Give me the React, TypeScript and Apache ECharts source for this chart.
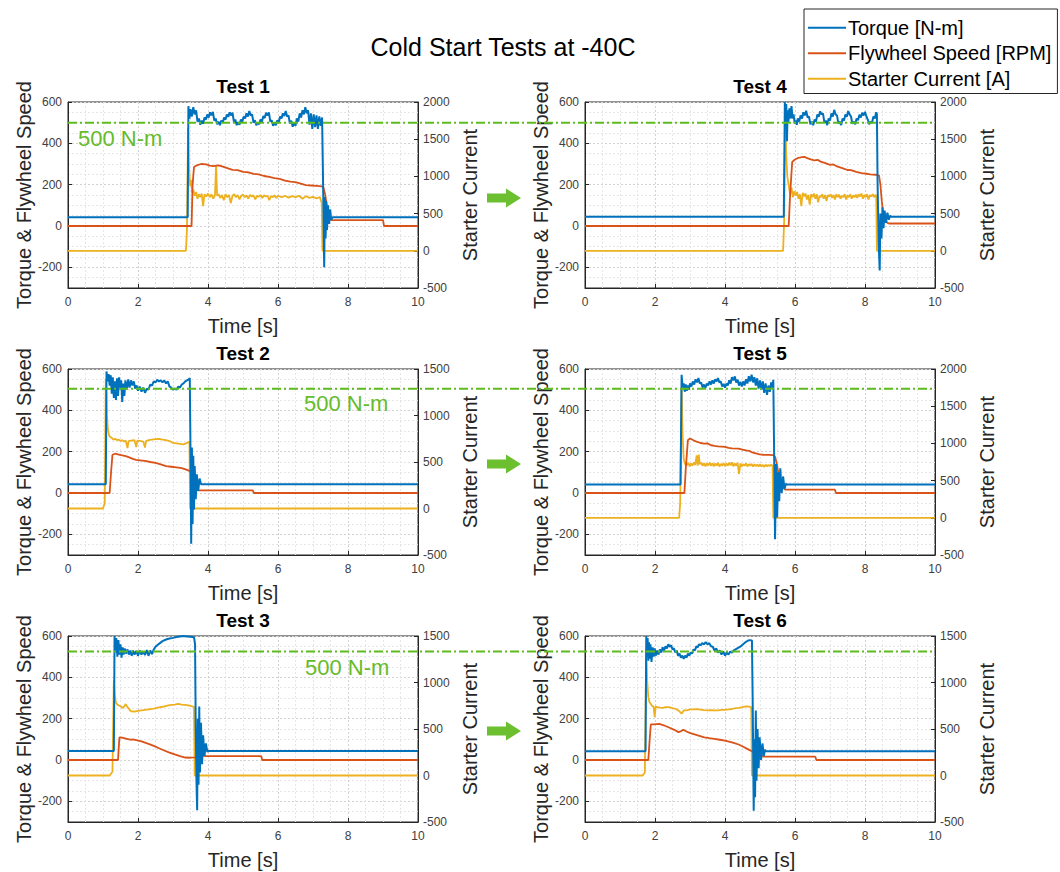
import React, { useEffect, useRef } from "react";
import * as echarts from "echarts";

// ---------- DATA (time [s], value) ----------
const test1Torque = [[0,42],[3.42,42],[3.44,580],[3.47,520],[3.50,565],[3.54,530],[3.58,575],[3.62,540],[3.66,560],[3.70,505],[3.74,520],[3.78,490],[3.82,510],[3.86,495],[3.90,525],[3.94,515],[3.98,540],[4.02,525],[4.06,550],[4.10,535],[4.14,552],[4.18,510],[4.22,520],[4.26,492],[4.30,505],[4.34,488],[4.38,510],[4.42,500],[4.46,525],[4.50,515],[4.54,540],[4.58,528],[4.62,550],[4.66,535],[4.70,548],[4.74,505],[4.78,515],[4.82,488],[4.86,502],[4.90,490],[4.94,515],[4.98,505],[5.02,530],[5.06,520],[5.10,545],[5.14,530],[5.18,556],[5.22,535],[5.26,540],[5.30,500],[5.34,512],[5.38,488],[5.42,500],[5.46,492],[5.50,515],[5.54,505],[5.58,532],[5.62,522],[5.66,548],[5.70,535],[5.74,550],[5.78,505],[5.82,512],[5.86,485],[5.90,500],[5.94,488],[5.98,512],[6.02,500],[6.06,530],[6.10,520],[6.14,545],[6.18,532],[6.22,556],[6.26,530],[6.30,535],[6.34,495],[6.38,510],[6.42,480],[6.46,500],[6.50,485],[6.54,520],[6.58,505],[6.62,545],[6.66,525],[6.70,560],[6.74,540],[6.78,575],[6.82,545],[6.86,560],[6.90,490],[6.94,545],[6.98,470],[7.02,540],[7.06,478],[7.10,535],[7.14,470],[7.18,530],[7.22,485],[7.26,525],[7.28,300],[7.30,60],[7.32,-200],[7.34,140],[7.36,-60],[7.38,120],[7.40,-20],[7.43,100],[7.46,10],[7.49,80],[7.52,30],[7.56,42],[10,42]];
const test1Speed = [[0,0],[3.53,0],[3.56,200],[3.60,285],[3.70,295],[3.80,300],[3.95,298],[4.05,292],[4.15,290],[4.30,293],[4.40,288],[4.55,280],[4.70,272],[4.85,270],[5.00,262],[5.15,260],[5.30,252],[5.45,250],[5.60,242],[5.75,238],[5.90,232],[6.05,228],[6.20,220],[6.35,215],[6.50,212],[6.65,205],[6.80,198],[6.95,196],[7.10,194],[7.25,192],[7.30,185],[7.35,150],[7.40,90],[7.45,45],[7.50,30],[7.55,28],[9.00,28],[9.03,0],[10,0]];
const test1Current = [[0,0],[3.37,0],[3.40,300],[3.43,1650],[3.46,1100],[3.49,870],[3.52,950],[3.55,780],[3.58,820],[3.62,740],[3.66,790],[3.70,700],[3.74,760],[3.78,720],[3.82,770],[3.86,600],[3.90,760],[3.95,730],[4.00,770],[4.05,720],[4.10,760],[4.15,700],[4.20,750],[4.23,1150],[4.26,740],[4.30,760],[4.35,710],[4.40,750],[4.45,680],[4.50,760],[4.55,720],[4.60,750],[4.65,640],[4.70,740],[4.75,760],[4.80,720],[4.85,750],[4.90,690],[4.95,740],[5.00,755],[5.05,720],[5.10,745],[5.15,700],[5.20,750],[5.25,730],[5.30,745],[5.35,690],[5.40,740],[5.45,725],[5.50,750],[5.55,710],[5.60,745],[5.65,730],[5.70,740],[5.75,680],[5.80,735],[5.85,720],[5.90,745],[5.95,710],[6.00,740],[6.10,720],[6.20,740],[6.30,715],[6.40,735],[6.50,720],[6.60,740],[6.70,700],[6.80,735],[6.90,710],[7.00,725],[7.10,705],[7.20,720],[7.25,640],[7.27,0],[10,0]];

const test2Torque = [[0,42],[1.08,42],[1.10,588],[1.13,540],[1.16,575],[1.19,520],[1.22,570],[1.25,480],[1.28,560],[1.31,460],[1.34,540],[1.37,450],[1.40,555],[1.43,470],[1.46,560],[1.49,500],[1.52,545],[1.55,440],[1.58,530],[1.61,470],[1.64,545],[1.68,500],[1.72,550],[1.76,510],[1.80,545],[1.84,520],[1.88,540],[1.92,505],[1.96,520],[2.00,495],[2.05,515],[2.10,490],[2.15,510],[2.20,485],[2.25,505],[2.30,500],[2.35,525],[2.40,520],[2.45,540],[2.50,535],[2.55,548],[2.60,540],[2.65,545],[2.70,535],[2.75,545],[2.80,530],[2.85,540],[2.90,515],[2.95,510],[3.00,500],[3.05,505],[3.10,500],[3.15,515],[3.20,510],[3.25,525],[3.30,530],[3.35,540],[3.40,545],[3.45,550],[3.48,555],[3.50,200],[3.52,-246],[3.54,220],[3.56,-150],[3.58,180],[3.60,-80],[3.62,130],[3.65,-30],[3.68,90],[3.72,10],[3.76,70],[3.80,42],[10,42]];
const test2Speed = [[0,0],[1.19,0],[1.23,100],[1.27,185],[1.35,190],[1.45,186],[1.55,182],[1.65,178],[1.75,172],[1.85,165],[1.95,160],[2.05,158],[2.20,155],[2.35,150],[2.50,146],[2.65,138],[2.80,130],[2.95,127],[3.10,124],[3.25,120],[3.40,112],[3.50,105],[3.55,90],[3.60,50],[3.65,20],[3.70,13],[5.28,13],[5.31,0],[10,0]];
const test2Current = [[0,0],[1.00,0],[1.05,60],[1.08,1389],[1.11,1000],[1.14,850],[1.17,790],[1.20,770],[1.25,760],[1.30,740],[1.35,750],[1.40,735],[1.45,740],[1.50,725],[1.55,735],[1.60,720],[1.65,730],[1.70,650],[1.73,725],[1.80,730],[1.90,735],[1.95,660],[1.98,730],[2.05,728],[2.15,720],[2.20,655],[2.23,725],[2.30,735],[2.40,740],[2.50,745],[2.60,748],[2.70,740],[2.80,735],[2.90,725],[3.00,705],[3.10,700],[3.20,695],[3.30,690],[3.40,705],[3.47,720],[3.49,0],[10,0]];

const test3Torque = [[0,44],[1.31,44],[1.33,600],[1.35,520],[1.38,590],[1.41,500],[1.44,580],[1.47,510],[1.50,560],[1.53,495],[1.56,545],[1.59,510],[1.62,540],[1.66,515],[1.70,535],[1.74,510],[1.78,530],[1.82,505],[1.86,530],[1.90,510],[1.95,528],[2.00,505],[2.05,530],[2.10,510],[2.15,525],[2.20,508],[2.25,532],[2.30,505],[2.35,530],[2.40,512],[2.45,535],[2.50,548],[2.60,562],[2.70,575],[2.80,583],[2.90,588],[3.00,591],[3.10,595],[3.20,598],[3.30,600],[3.40,598],[3.50,596],[3.60,594],[3.63,560],[3.65,150],[3.67,-100],[3.69,-243],[3.71,200],[3.73,-120],[3.75,259],[3.77,-60],[3.80,180],[3.83,-20],[3.86,120],[3.90,20],[3.94,80],[3.98,40],[4.02,44],[10,44]];
const test3Speed = [[0,0],[1.43,0],[1.45,60],[1.47,110],[1.55,108],[1.65,104],[1.75,100],[1.81,98],[1.85,100],[1.95,96],[2.10,90],[2.30,78],[2.45,68],[2.60,57],[2.75,46],[2.90,36],[3.05,27],[3.20,19],[3.35,12],[3.50,11],[3.62,13],[3.72,15],[3.76,48],[3.82,50],[3.86,20],[3.92,19],[5.52,19],[5.55,0],[10,0]];
const test3Current = [[0,0],[1.19,0],[1.27,40],[1.31,1025],[1.34,850],[1.37,780],[1.42,760],[1.50,745],[1.57,725],[1.62,750],[1.65,768],[1.70,735],[1.80,690],[1.90,688],[2.00,696],[2.15,702],[2.30,710],[2.45,720],[2.60,732],[2.75,742],[2.90,757],[3.05,762],[3.15,770],[3.25,762],[3.40,757],[3.50,748],[3.60,739],[3.62,0],[10,0]];

const test4Torque = [[0,45],[5.68,45],[5.71,600],[5.73,540],[5.75,590],[5.77,410],[5.79,560],[5.81,500],[5.84,570],[5.87,520],[5.90,580],[5.93,520],[5.96,540],[5.99,495],[6.02,510],[6.05,490],[6.08,520],[6.12,505],[6.16,535],[6.20,520],[6.24,550],[6.28,535],[6.32,558],[6.36,525],[6.40,530],[6.44,492],[6.48,505],[6.52,488],[6.56,515],[6.60,505],[6.64,540],[6.68,528],[6.72,555],[6.76,540],[6.80,545],[6.84,500],[6.88,510],[6.92,488],[6.96,520],[7.00,510],[7.04,545],[7.08,530],[7.12,562],[7.16,540],[7.20,535],[7.24,495],[7.28,505],[7.32,488],[7.36,520],[7.40,510],[7.44,540],[7.48,528],[7.52,556],[7.56,540],[7.60,530],[7.64,495],[7.68,505],[7.72,492],[7.76,520],[7.80,512],[7.84,538],[7.88,525],[7.92,548],[7.96,535],[8.00,552],[8.04,530],[8.08,515],[8.12,492],[8.16,505],[8.20,498],[8.24,530],[8.28,520],[8.32,550],[8.34,540],[8.36,200],[8.39,-80],[8.42,-215],[8.44,60],[8.47,-60],[8.50,90],[8.53,-10],[8.56,75],[8.60,15],[8.64,65],[8.68,30],[8.72,50],[8.75,45],[10,45]];
const test4Speed = [[0,0],[5.82,0],[5.86,150],[5.92,310],[6.00,322],[6.10,330],[6.20,333],[6.27,335],[6.35,328],[6.45,322],[6.55,318],[6.65,320],[6.75,310],[6.85,305],[7.00,296],[7.10,298],[7.20,288],[7.35,280],[7.50,271],[7.60,270],[7.75,262],[7.90,256],[8.00,254],[8.15,250],[8.30,248],[8.40,245],[8.44,200],[8.48,120],[8.52,60],[8.58,30],[8.64,15],[8.70,12],[10,12]];
const test4Current = [[0,0],[5.66,0],[5.69,400],[5.72,1750],[5.75,1300],[5.78,1000],[5.82,880],[5.86,760],[5.90,850],[5.94,720],[5.98,800],[6.02,740],[6.06,790],[6.10,700],[6.14,760],[6.18,600],[6.22,780],[6.26,730],[6.30,770],[6.34,690],[6.38,750],[6.42,620],[6.46,760],[6.50,720],[6.54,770],[6.58,700],[6.62,760],[6.66,650],[6.70,740],[6.74,720],[6.78,760],[6.82,700],[6.86,750],[6.90,670],[6.94,750],[6.98,730],[7.02,760],[7.06,710],[7.10,750],[7.14,690],[7.18,760],[7.22,720],[7.26,755],[7.30,700],[7.34,740],[7.38,720],[7.42,760],[7.46,690],[7.50,745],[7.54,720],[7.58,760],[7.62,700],[7.66,745],[7.70,720],[7.74,755],[7.78,710],[7.82,760],[7.86,730],[7.90,770],[7.94,700],[7.98,750],[8.02,720],[8.06,760],[8.10,690],[8.14,750],[8.18,730],[8.22,760],[8.26,720],[8.30,755],[8.32,740],[8.34,0],[10,0]];

const test5Torque = [[0,41],[2.73,41],[2.76,572],[2.79,510],[2.82,530],[2.85,490],[2.88,525],[2.91,495],[2.94,520],[2.97,500],[3.00,530],[3.04,515],[3.08,540],[3.12,525],[3.16,550],[3.20,535],[3.24,556],[3.28,530],[3.32,535],[3.36,510],[3.40,525],[3.44,508],[3.48,530],[3.52,520],[3.56,540],[3.60,525],[3.64,545],[3.68,530],[3.72,550],[3.76,540],[3.80,556],[3.84,535],[3.88,540],[3.92,515],[3.96,528],[4.00,510],[4.04,530],[4.08,520],[4.12,545],[4.16,530],[4.20,560],[4.24,545],[4.28,564],[4.32,535],[4.36,548],[4.40,520],[4.44,538],[4.48,515],[4.52,540],[4.56,520],[4.60,550],[4.64,530],[4.68,565],[4.72,540],[4.76,572],[4.80,535],[4.84,560],[4.88,520],[4.92,555],[4.96,505],[5.00,545],[5.04,500],[5.08,540],[5.12,485],[5.16,530],[5.20,475],[5.24,520],[5.28,490],[5.32,535],[5.36,510],[5.38,548],[5.40,250],[5.43,-224],[5.46,140],[5.49,-118],[5.52,100],[5.55,-40],[5.58,120],[5.62,0],[5.66,80],[5.70,20],[5.74,45],[5.76,41],[10,41]];
const test5Speed = [[0,0],[2.84,0],[2.88,120],[2.94,256],[3.00,264],[3.10,255],[3.21,247],[3.30,242],[3.41,239],[3.50,240],[3.60,231],[3.70,228],[3.80,226],[4.00,223],[4.10,218],[4.20,216],[4.39,215],[4.50,210],[4.60,206],[4.69,204],[4.80,195],[4.99,187],[5.10,185],[5.25,184],[5.38,183],[5.43,175],[5.48,142],[5.53,90],[5.58,45],[5.65,25],[5.73,16],[7.14,16],[7.17,0],[10,0]];
const test5Current = [[0,0],[2.69,0],[2.72,200],[2.76,1750],[2.79,1100],[2.82,790],[2.86,720],[2.91,705],[2.95,740],[2.99,690],[3.03,730],[3.07,700],[3.11,745],[3.15,710],[3.19,840],[3.22,700],[3.25,850],[3.28,720],[3.32,740],[3.36,700],[3.40,735],[3.44,690],[3.48,730],[3.52,705],[3.56,740],[3.60,700],[3.64,735],[3.68,690],[3.72,730],[3.76,700],[3.80,740],[3.84,690],[3.88,725],[3.92,700],[3.96,735],[4.00,695],[4.04,730],[4.08,700],[4.12,740],[4.16,705],[4.20,745],[4.24,690],[4.28,730],[4.32,700],[4.36,740],[4.40,590],[4.44,730],[4.48,690],[4.52,720],[4.56,700],[4.60,730],[4.64,690],[4.68,720],[4.72,700],[4.76,725],[4.80,690],[4.84,720],[4.88,695],[4.92,715],[4.96,690],[5.00,720],[5.04,690],[5.08,710],[5.12,685],[5.16,715],[5.20,690],[5.24,710],[5.28,695],[5.32,715],[5.36,700],[5.38,0],[10,0]];

const test6Torque = [[0,42],[1.73,42],[1.75,600],[1.77,500],[1.79,590],[1.81,480],[1.83,570],[1.85,490],[1.87,560],[1.90,475],[1.93,545],[1.96,500],[1.99,540],[2.02,505],[2.06,530],[2.10,510],[2.14,535],[2.18,520],[2.22,545],[2.26,530],[2.30,550],[2.34,540],[2.38,560],[2.42,548],[2.46,555],[2.50,535],[2.54,540],[2.58,520],[2.62,530],[2.66,505],[2.70,515],[2.74,495],[2.78,505],[2.82,490],[2.86,505],[2.90,495],[2.94,515],[2.98,505],[3.02,520],[3.06,515],[3.10,535],[3.14,530],[3.18,550],[3.22,545],[3.26,560],[3.30,555],[3.35,565],[3.40,560],[3.45,570],[3.50,560],[3.55,565],[3.60,550],[3.65,548],[3.70,530],[3.75,540],[3.80,520],[3.85,530],[3.90,510],[3.95,525],[4.00,505],[4.05,520],[4.10,510],[4.15,525],[4.20,520],[4.25,530],[4.30,535],[4.35,540],[4.40,545],[4.45,550],[4.50,558],[4.55,565],[4.60,572],[4.65,577],[4.70,580],[4.77,578],[4.79,300],[4.82,-246],[4.84,100],[4.86,-180],[4.88,240],[4.90,-100],[4.93,150],[4.96,-40],[4.99,110],[5.03,0],[5.07,80],[5.11,20],[5.14,50],[5.16,42],[10,42]];
const test6Speed = [[0,0],[1.81,0],[1.84,80],[1.88,172],[1.97,172],[2.05,174],[2.12,175],[2.25,168],[2.42,156],[2.55,146],[2.67,135],[2.75,140],[2.81,146],[2.90,138],[3.01,130],[3.20,120],[3.41,110],[3.55,106],[3.70,102],[3.85,98],[4.00,94],[4.20,85],[4.39,75],[4.55,62],[4.69,49],[4.80,40],[4.89,32],[5.03,21],[5.10,16],[6.58,16],[6.61,0],[10,0]];
const test6Current = [[0,0],[1.65,0],[1.71,32],[1.75,1320],[1.78,1000],[1.81,840],[1.84,790],[1.88,770],[1.92,745],[1.96,740],[1.99,630],[2.02,740],[2.08,735],[2.15,730],[2.22,728],[2.30,735],[2.40,736],[2.50,725],[2.60,715],[2.70,690],[2.76,664],[2.82,700],[2.90,700],[3.00,710],[3.10,712],[3.20,714],[3.30,708],[3.40,702],[3.50,700],[3.60,702],[3.70,700],[3.80,700],[3.90,705],[4.00,707],[4.10,710],[4.20,715],[4.30,725],[4.40,728],[4.50,735],[4.60,743],[4.70,740],[4.75,736],[4.77,0],[10,0]];

const testTitles = ["Test 1", "Test 2", "Test 3", "Test 4", "Test 5", "Test 6"];
const torqueData = [test1Torque, test2Torque, test3Torque, test4Torque, test5Torque, test6Torque];
const speedData = [test1Speed, test2Speed, test3Speed, test4Speed, test5Speed, test6Speed];
const currentData = [test1Current, test2Current, test3Current, test4Current, test5Current, test6Current];
const currentAxisMax = [2000, 1500, 1500, 2000, 2000, 1500];
const leftTicks = [-200, 0, 200, 400, 600];
const thresholdByRow = [500, 505, 525];
const seriesNames = ["Torque [N-m]", "Flywheel Speed [RPM]", "Starter Current [A]"];

// ---------- LAYOUT / STYLE ----------
const FONT = "Liberation Sans, Arial, Helvetica, sans-serif";
const BLUE = "#0072BD";
const ORANGE = "#D95319";
const YELLOW = "#EDB120";
const GREEN = "#5EBB1F";
const AXIS = "#262626";
const colLeft = [68, 585];
const rowTop = [102, 369, 636];
const plotW = 350;
const plotH = 186;

function buildOption() {
  const grid: any[] = [];
  const xAxis: any[] = [];
  const yAxis: any[] = [];
  const series: any[] = [];
  const graphic: any[] = [];
  const plain = (v: number) => String(v);

  for (let i = 0; i < 6; i++) {
    const col = i < 3 ? 0 : 1;
    const row = i % 3;
    grid.push({
      left: colLeft[col], top: rowTop[row], width: plotW, height: plotH,
      show: true, borderColor: AXIS, borderWidth: 1, backgroundColor: "#fff",
    });
    xAxis.push({
      gridIndex: i, type: "value", min: 0, max: 10, interval: 2,
      axisLine: { onZero: false, lineStyle: { color: AXIS } },
      axisTick: { inside: true, length: 4, lineStyle: { color: AXIS } },
      axisLabel: { fontSize: 12, color: "#404040", fontFamily: FONT, margin: 8, formatter: plain },
      splitLine: { show: true, lineStyle: { color: "#d2d2d2", type: [2, 2], width: 1 } },
      minorTick: { show: false, splitNumber: 4 },
      minorSplitLine: { show: true, lineStyle: { color: "#e6e6e6", type: [2, 2], width: 1 } },
      name: "Time [s]", nameLocation: "middle", nameGap: 28,
      nameTextStyle: { fontSize: 20, color: AXIS, fontFamily: FONT },
    });
    yAxis.push({
      gridIndex: i, type: "value", position: "left", min: -300, max: 600,
      axisLine: { show: true, onZero: false, lineStyle: { color: AXIS } },
      axisTick: { show: true, inside: true, length: 4, customValues: leftTicks, lineStyle: { color: AXIS } },
      axisLabel: { customValues: leftTicks, fontSize: 12, color: "#404040", fontFamily: FONT, margin: 6, formatter: plain },
      splitLine: { show: false },
      name: "Torque & Flywheel Speed", nameLocation: "middle", nameRotate: 90, nameGap: 34,
      nameTextStyle: { fontSize: 20, color: AXIS, fontFamily: FONT },
    });
    yAxis.push({
      gridIndex: i, type: "value", position: "right", min: -500, max: currentAxisMax[i], interval: 500,
      axisLine: { show: true, onZero: false, lineStyle: { color: AXIS } },
      axisTick: { show: true, inside: true, length: 4, lineStyle: { color: AXIS } },
      axisLabel: { fontSize: 12, color: "#404040", fontFamily: FONT, margin: 5, formatter: plain },
      splitLine: { show: false },
      name: "Starter Current", nameLocation: "middle", nameRotate: 90, nameGap: 42,
      nameTextStyle: { fontSize: 20, color: AXIS, fontFamily: FONT },
    });
    yAxis.push({
      gridIndex: i, type: "value", position: "left", min: -300, max: 600, interval: 50,
      axisLine: { show: false, onZero: false }, axisTick: { show: false }, axisLabel: { show: false },
      splitLine: { show: true, lineStyle: { color: ["#e6e6e6", "#e6e6e6", "#d2d2d2", "#e6e6e6"], type: [2, 2], width: 1 } },
    });

    series.push({
      type: "line", name: seriesNames[2], xAxisIndex: i, yAxisIndex: 3 * i + 1,
      data: currentData[i], symbol: "none", showSymbol: false, silent: true,
      lineStyle: { color: YELLOW, width: 1.8 }, itemStyle: { color: YELLOW }, z: 2,
    });
    series.push({
      type: "line", name: seriesNames[1], xAxisIndex: i, yAxisIndex: 3 * i,
      data: speedData[i], symbol: "none", showSymbol: false, silent: true,
      lineStyle: { color: ORANGE, width: 1.8 }, itemStyle: { color: ORANGE }, z: 3,
    });
    series.push({
      type: "line", name: seriesNames[0], xAxisIndex: i, yAxisIndex: 3 * i,
      data: torqueData[i], symbol: "none", showSymbol: false, silent: true,
      lineStyle: { color: BLUE, width: 2 }, itemStyle: { color: BLUE }, z: 4,
    });

    graphic.push({
      type: "text", x: colLeft[col] + plotW / 2, y: rowTop[row] - 16,
      style: { text: testTitles[i], fontSize: 19, fontWeight: "bold", fontFamily: FONT, fill: "#000", textAlign: "center", textVerticalAlign: "middle" },
    });
  }

  for (let r = 0; r < 3; r++) {
    const gi = 6 + r;
    grid.push({ left: colLeft[0], top: rowTop[r], width: colLeft[1] + plotW - colLeft[0], height: plotH, show: false });
    xAxis.push({ gridIndex: gi, type: "value", min: 0, max: 1, show: false });
    yAxis.push({ gridIndex: gi, type: "value", min: -300, max: 600, show: false });
    series.push({
      type: "line", name: "threshold" + r, xAxisIndex: gi, yAxisIndex: 18 + r,
      data: [[0, thresholdByRow[r]], [1, thresholdByRow[r]]], symbol: "none", silent: true,
      lineStyle: { color: GREEN, width: 2, type: [9, 3, 2, 3] }, z: 6,
    });
  }

  const noteXY = [[78, 138], [304, 403], [305, 667]];
  noteXY.forEach(([x, y]) => {
    graphic.push({
      type: "text", x, y, z: 10,
      style: { text: "500 N-m", fontSize: 22, fontFamily: FONT, fill: "#66BB2A", textAlign: "left", textVerticalAlign: "middle" },
    });
  });

  [198, 464, 731].forEach((cy) => {
    graphic.push({
      type: "polygon", x: 487, y: cy, z: 10,
      shape: { points: [[0, -4.5], [19, -4.5], [19, -9.5], [34, 0], [19, 9.5], [19, 4.5], [0, 4.5]] },
      style: { fill: "#6CBF2E" },
    });
  });

  graphic.push({
    type: "text", x: 503, y: 47,
    style: { text: "Cold Start Tests at -40C", fontSize: 25, fontFamily: FONT, fill: "#000", textAlign: "center", textVerticalAlign: "middle" },
  });

  return {
    animation: false,
    backgroundColor: "#fff",
    grid, xAxis, yAxis, series, graphic,
    legend: {
      data: seriesNames, orient: "vertical", left: 804, top: 9,
      icon: "rect", itemWidth: 38, itemHeight: 2, itemGap: 4,
      padding: [8, 6, 4, 4],
      borderColor: AXIS, borderWidth: 1, backgroundColor: "#fff",
      textStyle: { fontSize: 20, color: "#000", fontFamily: FONT, padding: [0, 0, 0, -3], lineHeight: 21.5 },
      selectedMode: false,
    },
  };
}

export default function App() {
  const ref = useRef<HTMLDivElement>(null);
  useEffect(() => {
    if (!ref.current) return;
    const chart = echarts.init(ref.current, undefined, { renderer: "svg" });
    chart.setOption(buildOption());
    return () => chart.dispose();
  }, []);
  return (
    <div
      ref={ref}
      style={{ position: "fixed", left: 0, top: 0, width: 1060, height: 872, background: "#fff" }}
    />
  );
}
